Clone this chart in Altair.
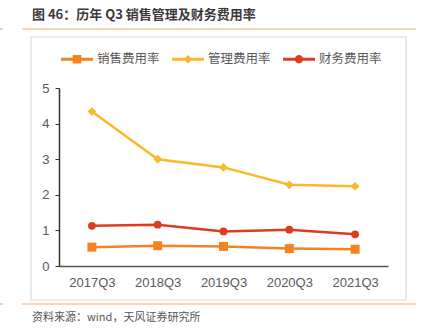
import altair as alt
import pandas as pd

quarters = ["2017Q3", "2018Q3", "2019Q3", "2020Q3", "2021Q3"]
series_names = ["销售费用率", "管理费用率", "财务费用率"]
sales = [0.53, 0.57, 0.55, 0.49, 0.47]
mgmt = [4.34, 3.00, 2.77, 2.28, 2.24]
finance = [1.13, 1.16, 0.97, 1.02, 0.89]
colors = ["#F58220", "#FBB829", "#DD3D1E"]

title_text = "图 46：历年 Q3 销售管理及财务费用率"
source_text = "资料来源：wind，天风证券研究所"

rows = []
for name, vals in zip(series_names, [sales, mgmt, finance]):
    for q, v in zip(quarters, vals):
        rows.append({"quarter": q, "series": name, "value": v})
df = pd.DataFrame(rows)

FONT = "Noto Sans CJK SC"
AXFONT = "Liberation Sans, Arial, Noto Sans CJK SC"

x_enc = alt.X("quarter:N", sort=quarters, scale=alt.Scale(type="point", padding=0.5),
              axis=alt.Axis(title=None, labelAngle=0, ticks=False, labelPadding=10,
                            labelFont=AXFONT, labelFontSize=13, labelColor="#595959",
                            domainColor="#555555", domainWidth=1.5))
y_enc = alt.Y("value:Q", scale=alt.Scale(domain=[0, 5]),
              axis=alt.Axis(title=None, values=[0, 1, 2, 3, 4, 5], grid=False,
                            tickSize=4, tickColor="#333333", tickWidth=1, labelPadding=6,
                            labelFont=AXFONT, labelFontSize=13, labelColor="#595959",
                            domainColor="#333333", domainWidth=1.5))

color_scale = alt.Scale(domain=series_names, range=colors)

lines = alt.Chart(df).mark_line(strokeWidth=2.5).encode(
    x=x_enc, y=y_enc,
    color=alt.Color("series:N", scale=color_scale, legend=None),
    detail="series:N",
)

shapes = ["square", "diamond", "circle"]
sizes = [81, 76, 60]
marker_layers = []
for name, shp, sz, col in zip(series_names, shapes, sizes, colors):
    marker_layers.append(
        alt.Chart(df).transform_filter(alt.datum.series == name)
        .mark_point(filled=True, shape=shp, size=sz, color=col, opacity=1)
        .encode(x=x_enc, y=y_enc)
    )

bar_part = "M-1,-0.09 L1,-0.09 L1,0.09 L-1,0.09 Z "
legend_paths = [
    bar_part + "M-0.27,-0.27 L0.27,-0.27 L0.27,0.27 L-0.27,0.27 Z",
    bar_part + "M0,-0.27 L0.27,0 L0,0.27 L-0.27,0 Z",
    bar_part + "M0.26,0 A0.26,0.26 0 1,1 -0.26,0 A0.26,0.26 0 1,1 0.26,0 Z",
]
leg = alt.Legend(title=None, orient="none", legendX=2, legendY=-45, direction="horizontal",
                 symbolSize=1024, symbolStrokeWidth=0, symbolOpacity=1,
                 labelFont=FONT, labelFontSize=12.5, labelColor="#595959",
                 labelOffset=4, columnPadding=12, padding=0)
legend_layer = alt.Chart(df).mark_point(filled=True, opacity=0, size=1024).encode(
    x=x_enc, y=y_enc,
    color=alt.Color("series:N", scale=color_scale, legend=leg),
    shape=alt.Shape("series:N", scale=alt.Scale(domain=series_names, range=legend_paths), legend=leg),
)

deco = pd.DataFrame({"t": [title_text], "s": [source_text]})
OX, OY = 59, 88
title = alt.Chart(deco).mark_text(align="left", baseline="middle", font=FONT, fontSize=13,
                                   fontWeight="bold", color="#3a3a3a").encode(
    x=alt.value(32 - OX), y=alt.value(15 - OY), text="t:N")
source = alt.Chart(deco).mark_text(align="left", baseline="middle", font=FONT, fontSize=11,
                                    color="#555555").encode(
    x=alt.value(32 - OX), y=alt.value(318 - OY), text="s:N")
line_color = "#F7AD6A"
top_line = alt.Chart(deco).mark_rule(color=line_color, strokeWidth=1.2).encode(
    x=alt.value(22 - OX), x2=alt.value(416 - OX), y=alt.value(29 - OY))
top_stub = alt.Chart(deco).mark_rule(color=line_color, strokeWidth=1.2).encode(
    x=alt.value(0 - OX), x2=alt.value(3 - OX), y=alt.value(29 - OY))
bot_line = alt.Chart(deco).mark_rule(color=line_color, strokeWidth=1.2).encode(
    x=alt.value(22 - OX), x2=alt.value(416 - OX), y=alt.value(304 - OY))
bot_stub = alt.Chart(deco).mark_rule(color=line_color, strokeWidth=1.2).encode(
    x=alt.value(0 - OX), x2=alt.value(3 - OX), y=alt.value(304 - OY))
frame = alt.Chart(deco).mark_rect(fill=None, stroke="#DADADA", strokeWidth=1.2).encode(
    x=alt.value(31 - OX), x2=alt.value(406 - OX), y=alt.value(37 - OY), y2=alt.value(300 - OY))

chart = alt.layer(
    frame, top_line, top_stub, bot_line, bot_stub, title, source,
    legend_layer, lines, *marker_layers
).properties(
    width=329, height=178,
    padding={"left": OX, "top": OY, "right": 36, "bottom": 64},
    autosize=alt.AutoSizeParams(type="none"),
    background="white",
).configure_view(stroke=None)

chart.save("out.html", embed_options={"renderer": "svg", "actions": False})
